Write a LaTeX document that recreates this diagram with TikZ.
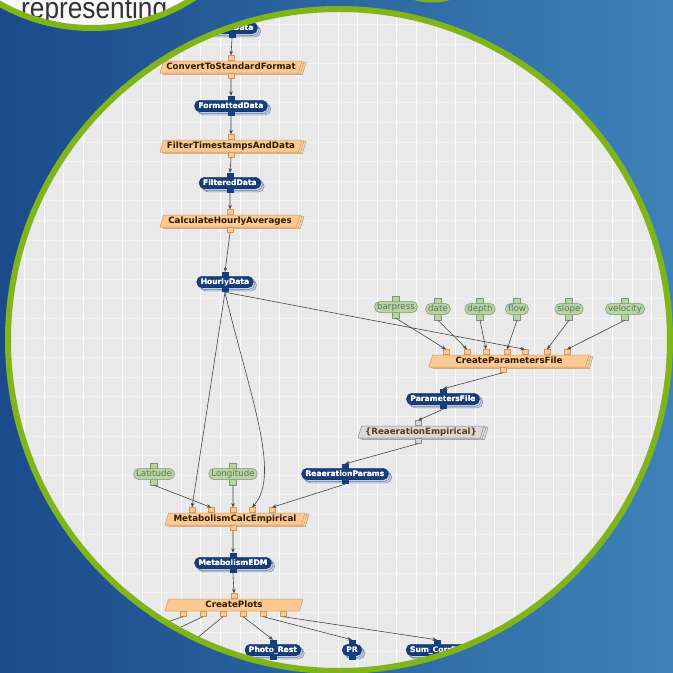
\documentclass[tikz,border=0pt]{standalone}
\usepackage{fontspec}
\setmainfont{DejaVu Sans}
\newfontfamily\titlefont{Liberation Sans}
\usetikzlibrary{shapes.geometric,shadows,arrows.meta}

\definecolor{bgL}{HTML}{1B4A8A}
\definecolor{bgR}{HTML}{3D82B8}
\definecolor{ringgreen}{HTML}{80B51A}
\definecolor{canvasgray}{HTML}{E9E9E9}
\definecolor{navy}{HTML}{173D7A}
\definecolor{navyedge}{HTML}{0F2B5A}
\definecolor{navyshadow}{HTML}{C5D0DF}
\definecolor{navyshadowedge}{HTML}{5F7BA3}
\definecolor{orfill}{HTML}{FBC994}
\definecolor{oredge}{HTML}{D4975A}
\definecolor{orshadow}{HTML}{F5D2AE}
\definecolor{ortext}{HTML}{2E1A00}
\definecolor{gyfill}{HTML}{D8D8D8}
\definecolor{gyedge}{HTML}{8E8E8E}
\definecolor{gytext}{HTML}{5A3A12}
\definecolor{grfill}{HTML}{B9D2A6}
\definecolor{gredge}{HTML}{7A9968}
\definecolor{grtext}{HTML}{5C7752}
\definecolor{linkc}{HTML}{474747}

\tikzset{
  datanode/.style={rectangle, rounded corners=5.5pt, fill=navy, draw=navyedge,
    line width=0.4pt, text=white, font=\fontsize{7.6}{8}\selectfont\bfseries,
    inner xsep=4pt, inner ysep=0pt, minimum height=11.5pt,
    text height=5.8pt, text depth=1.6pt,
    double copy shadow={shadow xshift=1.6pt, shadow yshift=-1.6pt,
      fill=navyshadow, draw=navyshadowedge}},
  datatext/.style={text=white, font=\fontsize{7.6}{8}\selectfont\bfseries,
    inner sep=0pt, text height=5.8pt, text depth=1.6pt},
  databar/.style={rectangle, fill=navy, minimum width=7pt, minimum height=20pt,
    inner sep=0pt},
  procnode/.style={trapezium, trapezium left angle=66, trapezium right angle=114,
    trapezium stretches body, fill=orfill, draw=oredge, line width=0.5pt,
    text=ortext, font=\fontsize{8.7}{9}\selectfont\bfseries,
    minimum height=12pt, inner xsep=1pt, inner ysep=0pt,
    text height=6.3pt, text depth=1.8pt},
  stacked/.style={double copy shadow={shadow xshift=2pt, shadow yshift=-0.8pt,
    fill=orshadow, draw=oredge}},
  procport/.style={rectangle, fill=orfill, draw=oredge, line width=0.4pt,
    minimum width=6pt, minimum height=5pt, inner sep=0pt},
  ruleport/.style={rectangle, fill=gyfill, draw=gyedge, line width=0.4pt,
    minimum width=6pt, minimum height=5pt, inner sep=0pt},
  paramnode/.style={rectangle, rounded corners=5pt, fill=grfill, draw=gredge,
    line width=0.5pt, text=grtext, font=\fontsize{8.7}{9}\selectfont,
    inner xsep=2.5pt, inner ysep=0pt, minimum height=11pt,
    text height=6.3pt, text depth=1.8pt},
  parambar/.style={rectangle, fill=grfill, draw=gredge, line width=0.5pt,
    minimum width=7pt, minimum height=22pt, inner sep=0pt},
  link/.style={draw=linkc, line width=0.6pt, -{Stealth[length=4.5pt,width=3.6pt]}},
}

% data item: shadowed pill, crossing port bar, label on top
\newcommand\datum[3]{%
  \node[datanode] (#1) at (#2) {#3};
  \node[databar] (#1-bar) at (#1.center) {};
  \node[datatext] (#1-txt) at (#1.center) {#3};
}
% input parameter: green pill over its port bar
\newcommand\param[3]{%
  \node[parambar] (#1-bar) at (#2) {};
  \node[paramnode] (#1) at (#2) {#3};
}

\begin{document}
\begin{tikzpicture}[x=1pt, y=-1pt]
\useasboundingbox (0,0) rectangle (673,673);
\clip (0,0) rectangle (673,673);

% slide background
\shade[left color=bgL, right color=bgR] (0,0) rectangle (673,673);

% heading bubble, top left
\begin{scope}
  \clip (92,-160) circle[radius=188];
  \fill[white!95!gray] (92,-160) circle[radius=188];
  \node[anchor=base west, inner sep=0pt, text=black!80,
        font=\titlefont\fontsize{30}{34}\selectfont] (headtext) at (21,18.5)
        {\scalebox{0.875}[1]{representing}};
\end{scope}
\draw[ringgreen, line width=6pt] (92,-160) circle[radius=188];

% neighbouring bubble, top
\fill[white!95!gray] (432,-62) circle[radius=62];
\draw[ringgreen, line width=5pt] (432,-62) circle[radius=62];

% workflow canvas
\fill[canvasgray] (339,340) circle[radius=331];
\begin{scope}
  \clip (339,340) circle[radius=331];
  \foreach \i in {-17,...,17}
    \draw[white, opacity=0.85, line width=0.8pt] (338+\i*19.6,0) -- (338+\i*19.6,673);
  \foreach \i in {-17,...,17}
    \draw[white, opacity=0.4, line width=0.7pt] (0,338+\i*19.6) -- (673,338+\i*19.6);

  % main chain
  \datum{in}{232,28}{InputData}
  \node[procnode, stacked, minimum width=142pt] (cv) at (231,67) {ConvertToStandardFormat};
  \node[procport, anchor=south] (cv-in) at (cv.north) {};
  \node[procport, anchor=north] (cv-out) at (cv.south) {};
  \datum{fd}{231,106}{FormattedData}
  \node[procnode, stacked, minimum width=142pt] (ft) at (231,146) {FilterTimestampsAndData};
  \node[procport, anchor=south] (ft-in) at (ft.north) {};
  \node[procport, anchor=north] (ft-out) at (ft.south) {};
  \datum{fl}{230,183}{FilteredData}
  \node[procnode, stacked, minimum width=140pt] (ch) at (230,221) {CalculateHourlyAverages};
  \node[procport, anchor=south] (ch-in) at (ch.north) {};
  \node[procport, anchor=north] (ch-out) at (ch.south) {};
  \datum{hd}{225,282}{HourlyData}

  % parameters branch
  \param{bp}{396,307}{barpress}
  \param{dt}{438,309}{date}
  \param{dp}{480,309}{depth}
  \param{fw}{517,309}{flow}
  \param{sl}{569,309}{slope}
  \param{vl}{625,309}{velocity}
  \node[procnode, stacked, minimum width=160pt] (cpf) at (509,361) {CreateParametersFile};
  \foreach \n/\dx in {1/-63,2/-42,3/-23,4/-2,5/16,6/38,7/58}
    \node[procport, anchor=south] (cpf-in\n) at ([xshift=\dx pt]cpf.north) {};
  \node[procport, anchor=north] (cpf-out) at ([xshift=-6pt]cpf.south) {};
  \datum{pf}{443,399}{ParametersFile}
  \node[procnode, fill=gyfill, draw=gyedge, text=gytext, minimum width=126pt,
        double copy shadow={shadow xshift=2pt, shadow yshift=-0.8pt, fill=gyfill!80!white, draw=gyedge}]
        (re) at (421,432) {\{ReaerationEmpirical\}};
  \node[ruleport, anchor=south] (re-in) at ([xshift=-3pt]re.north) {};
  \node[ruleport, anchor=north] (re-out) at ([xshift=-3pt]re.south) {};
  \datum{rp}{345,474}{ReaerationParams}

  % metabolism
  \param{lat}{154,474}{Latitude}
  \param{lon}{233,474}{Longitude}
  \node[procnode, stacked, minimum width=140pt] (mce) at (235,519) {MetabolismCalcEmpirical};
  \foreach \n/\dx in {1/-43,2/-24,3/-2,4/17,5/37}
    \node[procport, anchor=south] (mce-in\n) at ([xshift=\dx pt]mce.north) {};
  \node[procport, anchor=north] (mce-out) at ([xshift=-2pt]mce.south) {};
  \datum{edm}{233,563}{MetabolismEDM}
  \node[procnode, minimum width=138pt] (cp) at (234,605) {CreatePlots};
  \node[procport, anchor=south] (cp-in) at (cp.north) {};
  \foreach \n/\dx in {1/-51,2/-31,3/-11,4/9,5/29,6/49}
    \node[procport, anchor=north] (cp-out\n) at ([xshift=\dx pt]cp.south) {};
  \datum{photo}{273,650}{Photo\_Rest}
  \datum{pr}{352,650}{PR}
  \datum{sum}{437,650}{Sum\_CorrDO}
  \coordinate (plotA) at (90,648);
  \coordinate (plotB) at (128,652);
  \coordinate (plotC) at (180,652);

  % connectors
  \draw[link] (in-bar.south) -- (cv-in.north);
  \draw[link] (cv-out.south) -- (fd-bar.north);
  \draw[link] (fd-bar.south) -- (ft-in.north);
  \draw[link] (ft-out.south) -- (fl-bar.north);
  \draw[link] (fl-bar.south) -- (ch-in.north);
  \draw[link] (ch-out.south) -- (hd-bar.north);

  \draw[link] (bp-bar.south) -- (cpf-in1.north);
  \draw[link] (dt-bar.south) -- (cpf-in2.north);
  \draw[link] (dp-bar.south) -- (cpf-in3.north);
  \draw[link] (fw-bar.south) -- (cpf-in4.north);
  \draw[link] (hd-bar.south) -- (cpf-in5.north);
  \draw[link] (sl-bar.south) -- (cpf-in6.north);
  \draw[link] (vl-bar.south) -- (cpf-in7.north);
  \draw[link] (cpf-out.south) -- (pf-bar.north);
  \draw[link] (pf-bar.south) -- (re-in.north);
  \draw[link] (re-out.south) -- (rp-bar.north);

  \draw[link] (hd-bar.south) -- (mce-in1.north);
  \draw[link] (lat-bar.south) -- (mce-in2.north);
  \draw[link] (lon-bar.south) -- (mce-in3.north);
  \draw[link] (hd-bar.south) .. controls (248,390) and (282,475) .. (mce-in4.north);
  \draw[link] (rp-bar.south) -- (mce-in5.north);
  \draw[link] (mce-out.south) -- (edm-bar.north);
  \draw[link] (edm-bar.south) -- (cp-in.north);

  \draw[link] (cp-out1.south) -- (plotA);
  \draw[link] (cp-out2.south) -- (plotB);
  \draw[link] (cp-out3.south) -- (plotC);
  \draw[link] (cp-out4.south) -- (photo-bar.north);
  \draw[link] (cp-out5.south) -- (pr-bar.north);
  \draw[link] (cp-out6.south) -- (sum-bar.north);
\end{scope}
\draw[ringgreen, line width=6pt] (339,340) circle[radius=331];
\end{tikzpicture}
\end{document}
